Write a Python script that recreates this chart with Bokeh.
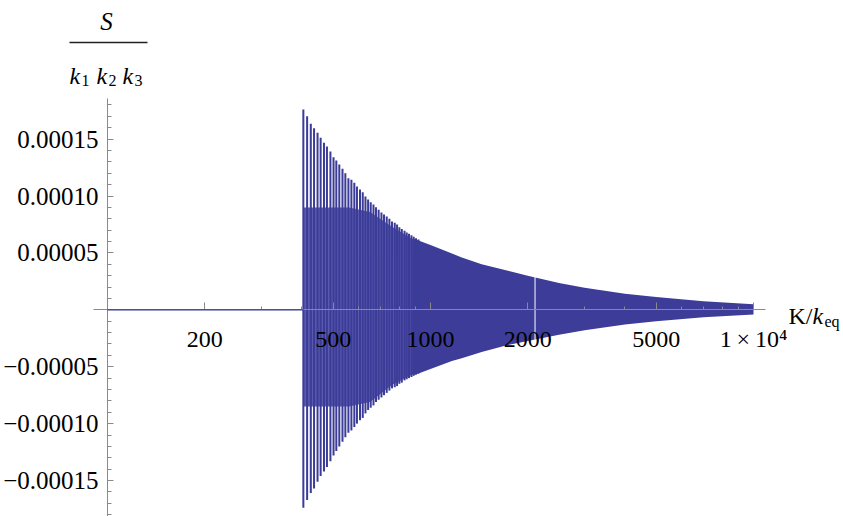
from bokeh.plotting import figure
from bokeh.models import FixedTicker, Label, BoxAnnotation
from bokeh.embed import file_html
from bokeh.resources import INLINE

# ---------------- data ----------------
# flat part of the curve (S = 0 before the oscillations start)
flat_x = [100, 404]
flat_y = [0.0, 0.0]

# individually visible oscillation spikes (x, upper tip, lower tip)
spike_x = [404, 415, 426, 436, 447, 457, 468, 478, 490, 501, 511, 522, 534, 545,
           557, 569, 581, 592, 605, 617, 629, 641, 653, 666, 678, 691, 705, 718,
           732, 746, 760, 775, 788, 801, 815, 831, 844, 858, 873, 887, 902, 918]
spike_hi = [1.760e-4, 1.701e-4, 1.634e-4, 1.596e-4, 1.555e-4, 1.511e-4, 1.467e-4,
            1.435e-4, 1.391e-4, 1.341e-4, 1.312e-4, 1.277e-4, 1.239e-4, 1.200e-4,
            1.156e-4, 1.142e-4, 1.116e-4, 1.083e-4, 1.057e-4, 1.033e-4, 0.996e-4,
            0.969e-4, 0.946e-4, 0.925e-4, 0.902e-4, 0.879e-4, 0.855e-4, 0.837e-4,
            0.820e-4, 0.800e-4, 0.776e-4, 0.765e-4, 0.750e-4, 0.726e-4, 0.710e-4,
            0.694e-4, 0.680e-4, 0.668e-4, 0.655e-4, 0.642e-4, 0.630e-4, 0.618e-4]
spike_lo = [-1.74e-4, -1.67e-4, -1.61e-4, -1.57e-4, -1.51e-4, -1.46e-4, -1.42e-4,
            -1.38e-4, -1.33e-4, -1.28e-4, -1.24e-4, -1.20e-4, -1.16e-4, -1.12e-4,
            -1.08e-4, -1.06e-4, -1.03e-4, -1.00e-4, -0.97e-4, -0.95e-4, -0.91e-4,
            -0.88e-4, -0.86e-4, -0.84e-4, -0.81e-4, -0.79e-4, -0.77e-4, -0.75e-4,
            -0.73e-4, -0.71e-4, -0.69e-4, -0.68e-4, -0.67e-4, -0.65e-4, -0.64e-4,
            -0.62e-4, -0.61e-4, -0.60e-4, -0.59e-4, -0.58e-4, -0.57e-4, -0.56e-4]

# partly filled core between the early spikes
core_x = [404, 560, 650, 760, 918]
core_hi = [9.0e-5, 9.0e-5, 8.6e-5, 7.3e-5, 5.9e-5]
core_lo = [-8.5e-5, -8.5e-5, -8.1e-5, -6.6e-5, -5.4e-5]

# densely filled body of the oscillation (envelope read at several K values)
body_x = [880, 918, 1000, 1165, 1250, 1440, 1700, 2000, 2500, 3000, 4000,
          5000, 7000, 10000]
body_hi = [6.3e-5, 6.1e-5, 5.7e-5, 4.95e-5, 4.6e-5, 4.0e-5, 3.5e-5, 3.0e-5,
           2.35e-5, 1.95e-5, 1.42e-5, 1.12e-5, 0.75e-5, 0.5e-5]
body_lo = [-5.75e-5, -5.6e-5, -5.2e-5, -4.5e-5, -4.25e-5, -3.7e-5, -3.15e-5,
           -2.75e-5, -2.2e-5, -1.8e-5, -1.3e-5, -1.0e-5, -0.65e-5, -0.42e-5]

# thin white sampling gap in the filled body
gap_x = [2107]
gap_hi = [3.0e-5]
gap_lo = [-2.8e-5]

# axes ticks and labels
x_ticks = [200, 500, 1000, 2000, 5000, 10000]
x_tick_labels = ["200", "500", "1000", "2000", "5000", "1\u2009\u00d7\u200910\u2074"]
x_minor_ticks = [300, 400, 600, 700, 800, 900, 3000, 4000, 6000, 7000, 8000, 9000]
y_ticks = [-0.00015, -0.0001, -0.00005, 0.00005, 0.0001, 0.00015]
y_tick_labels = ["\u22120.00015", "\u22120.00010", "\u22120.00005",
                 "0.00005", "0.00010", "0.00015"]
y_minor_ticks = [k * 1e-5 for k in range(-18, 19) if k % 5 != 0]

# ---------------- figure ----------------
BLUE = "#3b3b98"
FILL = "#3d3d99"
CORE = "#5a5aae"
AXIS = "#8a8a8a"
SERIF = "Liberation Serif"
W, H = 843, 516

p = figure(width=W, height=H, x_axis_type="log",
           x_range=(46.64, 18995), y_range=(-1.816e-4, 2.718e-4),
           output_backend="svg", toolbar_location=None,
           min_border_left=0, min_border_right=0,
           min_border_top=0, min_border_bottom=0)
p.outline_line_color = None
p.grid.visible = False
p.background_fill_color = "white"
p.border_fill_color = "white"

p.varea(x=core_x, y1=core_lo, y2=core_hi, fill_color=CORE)
p.varea(x=body_x, y1=body_lo, y2=body_hi, fill_color=FILL)
p.segment(x0=spike_x, y0=spike_lo, x1=spike_x, y1=spike_hi,
          line_color=BLUE, line_width=2.0)
p.segment(x0=gap_x, y0=gap_lo, x1=gap_x, y1=gap_hi,
          line_color="white", line_width=1.1, line_alpha=0.9)
p.line(flat_x, flat_y, line_color=BLUE, line_width=1.4, level="overlay")

# axes crossing at the origin (Mathematica style)
xa = p.xaxis[0]
xa.fixed_location = 0
xa.bounds = (90.5, 10894)
xa.ticker = FixedTicker(ticks=x_ticks, minor_ticks=x_minor_ticks)
xa.major_label_overrides = dict(zip(x_ticks, x_tick_labels))
ya = p.yaxis[0]
ya.fixed_location = 100
ya.bounds = (-1.816e-4, 1.857e-4)
ya.ticker = FixedTicker(ticks=y_ticks, minor_ticks=y_minor_ticks)
ya.major_label_overrides = dict(zip(y_ticks, y_tick_labels))

for ax in (xa, ya):
    ax.axis_line_color = AXIS
    ax.major_tick_line_color = AXIS
    ax.minor_tick_line_color = AXIS
    ax.major_tick_out = 0
    ax.minor_tick_out = 0
    ax.major_label_text_font = SERIF
    ax.major_label_text_color = "black"
    ax.major_label_text_font_style = "normal"
xa.major_label_text_font_size = "24px"
ya.major_label_text_font_size = "25px"
xa.major_tick_in = 7
xa.minor_tick_in = 3
xa.major_label_standoff = 16
ya.major_tick_in = 6
ya.minor_tick_in = 4
ya.major_label_standoff = 9

# ---------------- axis titles (screen units: frame == whole canvas) ----------------
def lab(text, x, y, size, style="normal", align="left"):
    p.add_layout(Label(x=x, y=y, x_units="screen", y_units="screen", text=text,
                       text_font=SERIF, text_font_size=size,
                       text_font_style=style, text_align=align,
                       text_baseline="alphabetic", text_color="black"))

lab("S", 106, 495, "25px", "italic", "center")
p.add_layout(BoxAnnotation(left=69, right=147, bottom=473.3, top=474.7,
                           left_units="screen", right_units="screen",
                           bottom_units="screen", top_units="screen",
                           fill_color="#222222", fill_alpha=1.0, line_color=None))
lab("k", 69, 441, "24px", "italic")
lab("1", 81, 436, "16px")
lab("k", 96, 441, "24px", "italic")
lab("2", 108, 436, "16px")
lab("k", 122, 441, "24px", "italic")
lab("3", 134, 436, "16px")

lab("K/", 788, 201, "24px")
lab("k", 812, 201, "24px", "italic")
lab("eq", 824, 195, "16px")

open("out.html", "w").write(file_html(p, INLINE))
